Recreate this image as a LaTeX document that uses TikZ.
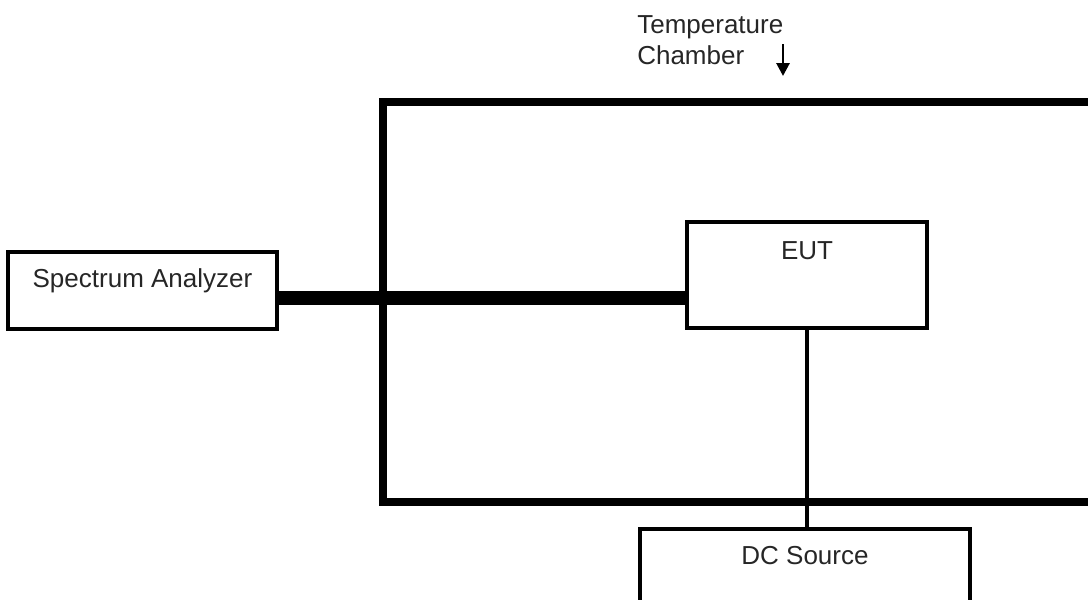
\documentclass[tikz,border=0pt]{standalone}
\usepackage{fontspec}
\setmainfont{Liberation Sans}
\usetikzlibrary{arrows.meta,positioning,calc}
\definecolor{ink}{RGB}{0,0,0}
\tikzset{
  >={Triangle[length=3.2mm,width=3.2mm]},
  box/.style={draw=ink,line width=2.5pt,fill=white,inner sep=0pt},
  tag/.style={font=\fontsize{18.5}{22}\selectfont,text=ink!85,inner sep=0pt},
  wall/.style={draw=ink,line width=6.2pt},
  cable/.style={draw=ink,line width=9.6pt},
  wire/.style={draw=ink,line width=2.4pt},
}
\begin{document}
\begin{tikzpicture}
  \clip (0,0) rectangle (27.2,-14.975);
  \useasboundingbox (0,0) rectangle (27.2,-14.975);
  % chamber walls (open to the right)
  \draw[wall] (27.6,-2.55) -- (9.575,-2.55) -- (9.575,-12.55) -- (27.6,-12.55);
  % boxes
  \node[box,minimum width=6.725cm,minimum height=1.925cm] (sa) at (3.5625,-7.2625) {};
  \node[tag] (satext) at ([yshift=-0.77cm]sa.north) {Spectrum Analyzer};
  \node[box,minimum width=6cm,minimum height=2.65cm] (eut) at (20.175,-6.875) {};
  \node[tag] (euttext) at ([yshift=-0.77cm]eut.north) {EUT};
  \node[box,minimum width=8.25cm,minimum height=3cm,anchor=north] (dc) at (20.125,-13.175) {};
  \node[tag] (dctext) at ([yshift=-0.72cm]dc.north) {DC Source};
  % connections
  \coordinate (cab) at (0,-7.45);
  \draw[cable] (sa.east |- cab) -- (eut.west |- cab);
  \draw[wire] (eut.south) -- (eut.south |- dc.north);
  % chamber label
  \node[tag,anchor=west,align=left] (tc) at (15.925,-1.0) {Temperature\\Chamber};
  \coordinate (tcarrow) at (19.575,-1.1);
  \draw[->,draw=ink,line width=2pt] (tcarrow) -- ++(0,-0.8);
\end{tikzpicture}
\end{document}
